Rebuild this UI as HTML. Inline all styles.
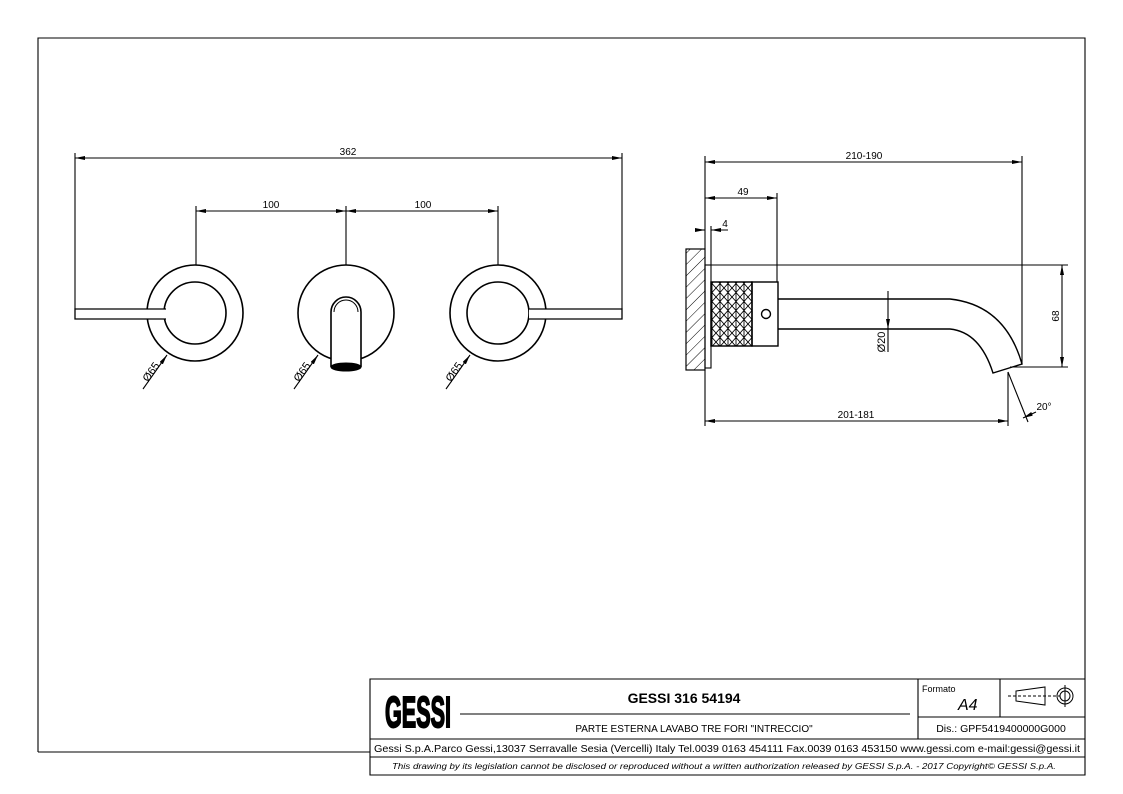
<!DOCTYPE html>
<html><head><meta charset="utf-8"><style>
html,body{margin:0;padding:0;background:#fff}
svg{display:block}
text{font-family:"Liberation Sans",sans-serif;fill:#000}
</style></head><body>
<svg width="1123" height="794" viewBox="0 0 1123 794" xmlns="http://www.w3.org/2000/svg">
<defs>
<marker id="a" viewBox="0 0 10 4" refX="10" refY="2" markerWidth="10" markerHeight="4" orient="auto-start-reverse" markerUnits="userSpaceOnUse"><path d="M0,0 L10,2 L0,4z" fill="#000"/></marker>
<pattern id="h" width="8" height="8" patternUnits="userSpaceOnUse" patternTransform="rotate(45)"><line x1="0" y1="0" x2="0" y2="8" stroke="#000" stroke-width="1"/></pattern>
<pattern id="k" width="8" height="9" patternUnits="userSpaceOnUse"><path d="M4,0 L8,4.5 L4,9 L0,4.5z M0,0 L0,9 M8,0 L8,9" fill="none" stroke="#000" stroke-width="0.9"/></pattern>
</defs>
<g fill="none" stroke="#000" stroke-width="1.1">
<path d="M38,752 V38 H1085 V775 H370 V679 H1085 M38,752 H370"/>
<path d="M370,739 H1085 M370,757 H1085 M918,679 V739 M1000,679 V717 M918,717 H1085"/>
<line x1="460" y1="714" x2="910" y2="714"/>
<circle cx="195" cy="313" r="48" stroke-width="1.6"/>
<circle cx="195" cy="313" r="31" stroke-width="1.6"/>
<circle cx="346" cy="313" r="48" stroke-width="1.6"/>
<circle cx="498" cy="313" r="48" stroke-width="1.6"/>
<circle cx="498" cy="313" r="31" stroke-width="1.6"/>
<path d="M166,309 H75 V319 H166" stroke-width="1.3" fill="#fff"/>
<path d="M529,309 H622 V319 H529" stroke-width="1.3" fill="#fff"/>
<path d="M331,367 V312 A15,15 0 0 1 361,312 V367" fill="#fff" stroke-width="1.6"/>
<path d="M334,312 A12,12 0 0 1 358,312" stroke-width="1"/>
<ellipse cx="346" cy="367" rx="15" ry="4" fill="#000"/>
<line x1="75" y1="158" x2="622" y2="158" marker-start="url(#a)" marker-end="url(#a)"/>
<line x1="75" y1="153" x2="75" y2="309"/><line x1="622" y1="153" x2="622" y2="309"/>
<line x1="196" y1="211" x2="346" y2="211" marker-start="url(#a)" marker-end="url(#a)"/>
<line x1="346" y1="211" x2="498" y2="211" marker-start="url(#a)" marker-end="url(#a)"/>
<line x1="196" y1="206" x2="196" y2="265"/><line x1="346" y1="206" x2="346" y2="265"/><line x1="498" y1="206" x2="498" y2="265"/>
<line x1="143" y1="389" x2="167" y2="355" marker-end="url(#a)"/>
<line x1="294" y1="389" x2="318" y2="355" marker-end="url(#a)"/>
<line x1="446" y1="389" x2="470" y2="355" marker-end="url(#a)"/>
<rect x="686" y="249" width="19" height="121" fill="url(#h)"/>
<rect x="686" y="249" width="19" height="121"/>
<rect x="705" y="265" width="6" height="103"/>
<rect x="711" y="282" width="41" height="64" fill="url(#k)"/>
<rect x="711" y="282" width="41" height="64" stroke-width="1.4"/>
<rect x="752" y="282" width="26" height="64" stroke-width="1.4"/>
<circle cx="766" cy="314" r="4.5" stroke-width="1.4"/>
<path d="M778,299 H950 Q1005,305 1022,364 L993,373 Q980,332 950,329 H778" stroke-width="1.4"/>
<line x1="705" y1="162" x2="1022" y2="162" marker-start="url(#a)" marker-end="url(#a)"/>
<line x1="705" y1="156" x2="705" y2="249"/><line x1="1022" y1="156" x2="1022" y2="364"/>
<line x1="705" y1="198" x2="777" y2="198" marker-start="url(#a)" marker-end="url(#a)"/>
<line x1="777" y1="193" x2="777" y2="282"/>
<line x1="697" y1="230" x2="705" y2="230" marker-end="url(#a)"/>
<line x1="728" y1="230" x2="711" y2="230" marker-end="url(#a)"/>
<line x1="711" y1="226" x2="711" y2="265"/>
<line x1="711" y1="265" x2="1068" y2="265"/>
<line x1="1010" y1="367" x2="1068" y2="367"/>
<line x1="1062" y1="265" x2="1062" y2="367" marker-start="url(#a)" marker-end="url(#a)"/>
<line x1="888" y1="291" x2="888" y2="329" marker-end="url(#a)"/>
<line x1="888" y1="329" x2="888" y2="352"/>
<line x1="705" y1="370" x2="705" y2="426"/>
<line x1="1008" y1="372" x2="1008" y2="426"/>
<line x1="705" y1="421" x2="1008" y2="421" marker-start="url(#a)" marker-end="url(#a)"/>
<line x1="1008" y1="372" x2="1028" y2="422"/>
<line x1="1036" y1="412" x2="1023" y2="418" marker-end="url(#a)"/>
</g>
<g font-size="10" text-anchor="middle">
<text x="348" y="155">362</text>
<text x="271" y="208">100</text>
<text x="423" y="208">100</text>
<text x="864" y="159">210-190</text>
<text x="743" y="195">49</text>
<text x="725" y="227">4</text>
<text x="856" y="418">201-181</text>
<text x="1044" y="410">20°</text>
<text transform="translate(1059,316) rotate(-90)">68</text>
<text transform="translate(885,342) rotate(-90)" font-size="11">Ø20</text>
<text transform="translate(154,374) rotate(-55)" font-size="11">Ø65</text>
<text transform="translate(305,374) rotate(-55)" font-size="11">Ø65</text>
<text transform="translate(457,374) rotate(-55)" font-size="11">Ø65</text>
</g>
<text x="418" y="727" font-size="44" font-weight="bold" text-anchor="middle" textLength="66" lengthAdjust="spacingAndGlyphs" stroke="#000" stroke-width="2">GESSI</text>
<text x="684" y="703" font-size="14" font-weight="bold" text-anchor="middle">GESSI 316 54194</text>
<text x="694" y="732" font-size="10" text-anchor="middle">PARTE ESTERNA LAVABO TRE FORI "INTRECCIO"</text>
<text x="922" y="692" font-size="9">Formato</text>
<text x="958" y="710" font-size="16" font-style="italic">A4</text>
<text x="1001" y="732" font-size="10.5" text-anchor="middle">Dis.: GPF5419400000G000</text>
<text x="727" y="752" font-size="10" text-anchor="middle" textLength="706" lengthAdjust="spacingAndGlyphs">Gessi S.p.A.Parco Gessi,13037 Serravalle Sesia (Vercelli) Italy Tel.0039 0163 454111 Fax.0039 0163 453150 www.gessi.com e-mail:gessi@gessi.it</text>
<text x="724" y="769" font-size="8" font-style="italic" text-anchor="middle" textLength="664" lengthAdjust="spacingAndGlyphs">This drawing by its legislation cannot be disclosed or reproduced without a written authorization released by GESSI S.p.A. - 2017 Copyright© GESSI S.p.A.</text>
<g fill="none" stroke="#000" stroke-width="1">
<path d="M1016,691 L1045,687 V705 L1016,701z"/>
<line x1="1008" y1="696" x2="1060" y2="696" stroke-dasharray="3,2"/>
<circle cx="1065" cy="696" r="8"/><circle cx="1065" cy="696" r="5"/>
<line x1="1065" y1="685" x2="1065" y2="707"/>
</g>
</svg>
</body></html>
